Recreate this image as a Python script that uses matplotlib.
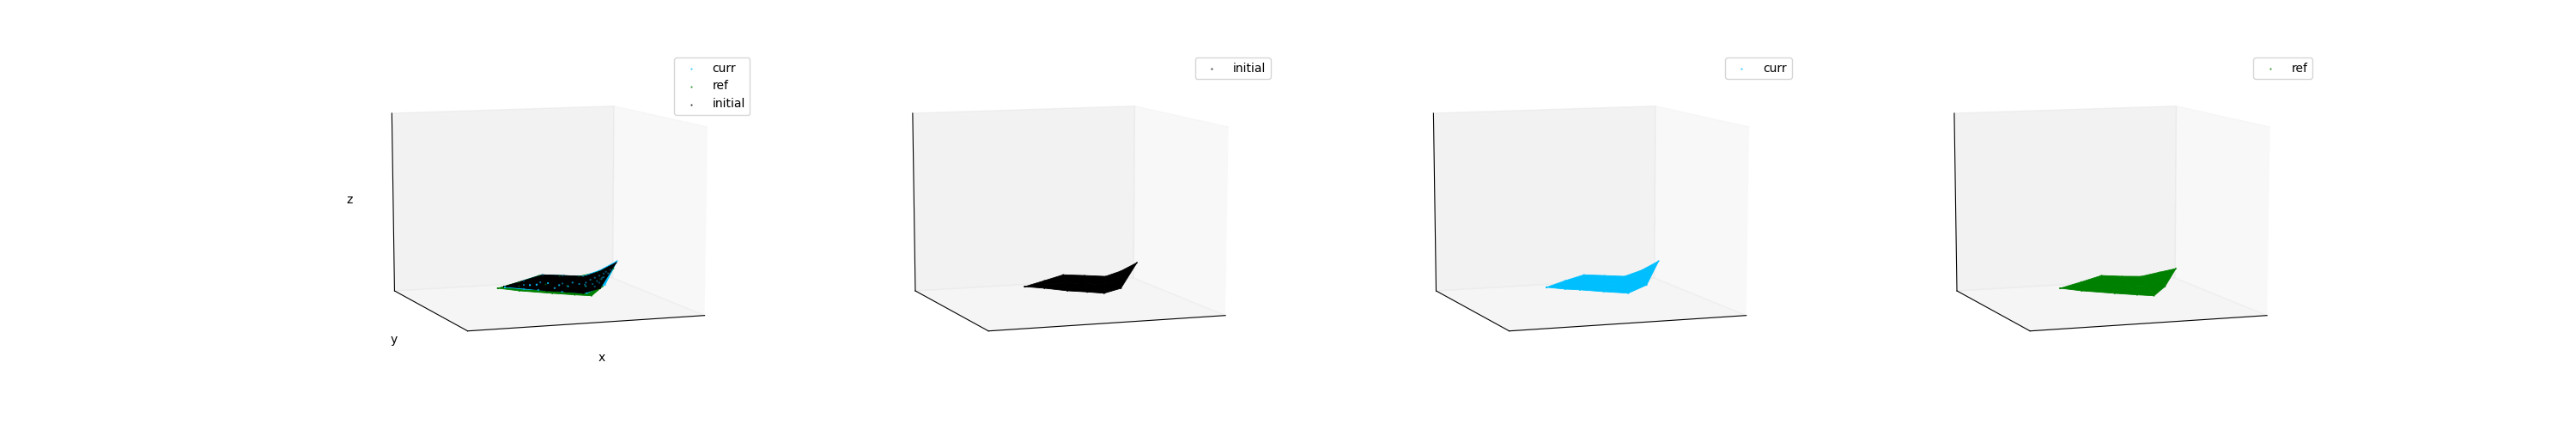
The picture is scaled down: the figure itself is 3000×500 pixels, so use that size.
import matplotlib
matplotlib.use("Agg")
import matplotlib.pyplot as plt
import numpy as np

# sampled points of each cloud, three rows across the sheet
curr_x = [[.36, .478, .562, .654, .745, .822, .90],
          [.36, .443, .516, .615, .715, .794, .90],
          [.36, .407, .471, .576, .685, .767, .90]]
curr_z = [[.076, .084, .111, .100, .089, .118, .165],
          [.076, .083, .092, .078, .064, .098, .165],
          [.076, .083, .074, .056, .039, .079, .165]]

initial_x = [[.356, .478, .562, .658, .753, .822, .896],
             [.356, .443, .535, .626, .711, .783, .896],
             [.356, .407, .508, .595, .670, .745, .896]]
initial_z = [[.080, .084, .111, .100, .088, .113, .156],
             [.080, .086, .088, .076, .064, .087, .156],
             [.080, .088, .066, .053, .040, .062, .156]]

ref_x = [[.329, .456, .547, .639, .726, .810, .884],
         [.329, .422, .540, .635, .717, .783, .884],
         [.329, .388, .533, .632, .707, .756, .884]]
ref_z = [[.073, .078, .108, .097, .090, .108, .123],
         [.073, .077, .079, .065, .056, .089, .123],
         [.073, .075, .050, .034, .023, .071, .123]]

# depth of the rows, same for every cloud
sheet_y = [[.6, .7, .7, .7, .7, .7, .7],
           [.6, .6, .6, .6, .6, .6, .7],
           [.6, .5, .5, .5, .5, .5, .7]]

# curr points that show through the black sheet in the first panel
speck_x = [.72, .74, .75, .76, .77, .78, .78, .79, .80, .80, .81, .82,
           .69, .66, .60, .55, .50, .47, .72, .64, .58, .76, .83]
speck_y = [.6] * 23
speck_z = [.075, .09, .065, .10, .08, .11, .07, .09, .12, .10, .13, .12,
           .07, .08, .07, .085, .08, .08, .055, .06, .055, .05, .14]

clouds = {
    "curr": (curr_x, sheet_y, curr_z, "deepskyblue"),
    "ref": (ref_x, sheet_y, ref_z, "green"),
    "initial": (initial_x, sheet_y, initial_z, "black"),
}


def draw_cloud(ax, name, surf_z, dot_z):
    x, y, z, color = clouds[name]
    x, y, z = np.array(x), np.array(y), np.array(z)
    ax.plot_surface(x, y, z, color=color, shade=False, linewidth=0.6,
                    edgecolor=color, rstride=1, cstride=1, zorder=surf_z)
    ax.scatter(x.ravel(), y.ravel(), z.ravel(), s=0.2, c=color, label=name,
               zorder=dot_z)


fig = plt.figure(figsize=(30, 5), dpi=100)

panels = [
    [("curr", 2, 5), ("ref", 1, 4), ("initial", 3, 4)],
    [("initial", 1, 2)],
    [("curr", 1, 2)],
    [("ref", 1, 2)],
]

for i, panel in enumerate(panels):
    ax = fig.add_subplot(1, 4, i + 1, projection="3d")
    # keep the full subplot box, stretched like the reference
    ax.apply_aspect = lambda position=None: None
    ax.set_box_aspect((1, 1, 1), zoom=0.945)
    ax.computed_zorder = False
    for name, surf_z, dot_z in panel:
        draw_cloud(ax, name, surf_z, dot_z)
    if i == 0:
        ax.scatter(speck_x, speck_y, speck_z, s=0.5, c="deepskyblue", zorder=5)
    ax.set_xlim(0, 1)
    ax.set_ylim(0, 1)
    ax.set_zlim(0, 1)
    ax.view_init(elev=10, azim=-110)
    ax.set_xticks([])
    ax.set_yticks([])
    ax.set_zticks([])
    ax.grid(False)
    if i == 0:
        ax.set_xlabel("x")
        ax.set_ylabel("y")
        ax.set_zlabel("z")
    ax.legend(loc="upper right")

plt.savefig("out.png")
